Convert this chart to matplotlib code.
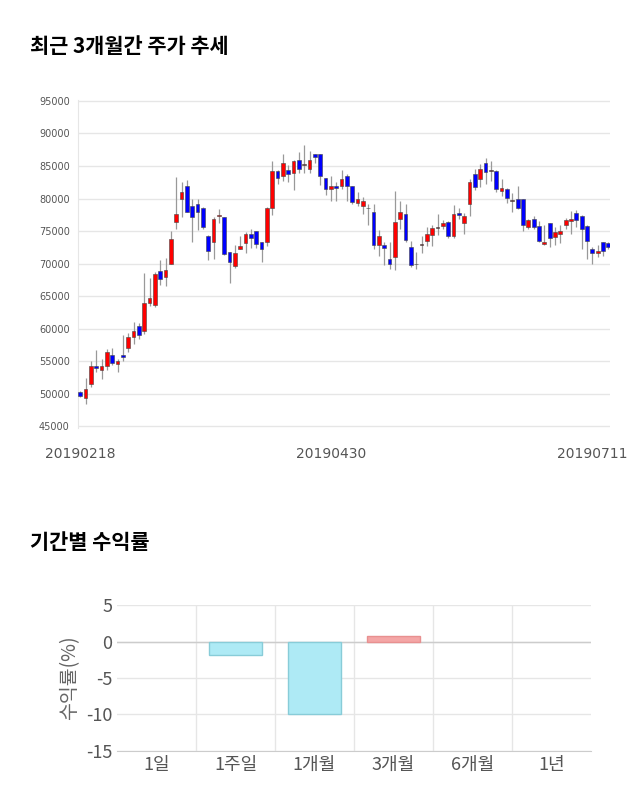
import matplotlib
matplotlib.use("Agg")
import matplotlib.pyplot as plt

plt.rcParams["font.family"] = "Noto Sans CJK KR"

# OHLC of the candlesticks
opens = [50300, 49400, 51500, 54300, 53600, 54300, 55900, 54600, 55900, 57000,
         58800, 60400, 59600, 64000, 63600, 68900, 68000, 70000, 76400, 80000,
         81900, 78800, 79100, 78600, 74200, 73300, 77300, 77100, 71800, 69600,
         72300, 73100, 74600, 75000, 73400, 73400, 78500, 84300, 83400, 84400,
         84000, 86000, 85200, 84500, 86900, 86800, 83100, 81500, 81900, 82000,
         83500, 81900, 79300, 78800, 78500, 78000, 72800, 72900, 70700, 71000,
         76800, 77600, 72500, 69900, 72900, 73500, 74400, 75500, 75800, 76400,
         74200, 77800, 76200, 79200, 83800, 83000, 85500, 84200, 84200, 81200,
         81400, 79600, 79900, 79900, 75600, 76800, 75800, 73000, 76300, 74100,
         74600, 75900, 76600, 77800, 77300, 75800, 72200, 71700, 73300, 73100]
closes = [49700, 50800, 54300, 54000, 54200, 56500, 54800, 55000, 55600, 58800,
          59600, 59100, 64000, 64800, 68400, 67700, 69100, 73800, 77600, 81000,
          78000, 77200, 77900, 75700, 72000, 76800, 77400, 71500, 70200, 71600,
          72700, 74600, 73900, 73000, 72200, 78500, 84300, 83100, 85400, 83700,
          85800, 84600, 85200, 86000, 86400, 83500, 81400, 82000, 81700, 83000,
          81900, 79400, 80000, 79600, 78500, 72800, 74200, 72400, 70000, 76400,
          78000, 73600, 69800, 69900, 72900, 74600, 75500, 75500, 76300, 74200,
          77600, 77400, 77300, 82500, 81800, 84500, 84100, 84200, 81400, 81700,
          80100, 79600, 78600, 76000, 76700, 75700, 73500, 73400, 74000, 74800,
          75000, 76700, 76800, 76700, 75300, 73500, 71700, 71900, 72000, 72500]
highs = [50500, 52400, 55000, 56800, 55400, 56900, 57100, 55300, 59000, 59300,
         61000, 60900, 68600, 67800, 68700, 70600, 70900, 75000, 83300, 82500,
         82900, 80000, 80000, 78700, 74400, 77200, 78400, 77200, 71800, 72900,
         74200, 74800, 75300, 75000, 73400, 78700, 85700, 84400, 86800, 85200,
         85900, 87100, 88300, 87300, 86900, 86900, 83200, 83500, 82500, 84400,
         83700, 81900, 81000, 80200, 79200, 79200, 75200, 73400, 73400, 81200,
         79600, 79200, 73500, 71800, 74300, 75700, 76000, 77600, 76700, 76500,
         79000, 78600, 77800, 83000, 84500, 85300, 86200, 85800, 84400, 83000,
         81700, 80900, 82000, 79900, 76900, 77300, 76500, 76000, 76300, 75600,
         76000, 77000, 78100, 78200, 77500, 76000, 72600, 72800, 73400, 73300]
lows = [49500, 48400, 51000, 53300, 52300, 53600, 54500, 53400, 55000, 56400,
        57600, 58500, 59200, 63500, 63400, 66700, 66600, 69900, 75400, 77100,
        77900, 73400, 75200, 75400, 70600, 70700, 76200, 71400, 67000, 69400,
        72200, 71700, 72400, 72400, 70200, 72700, 77500, 82300, 82700, 82500,
        81300, 84000, 84000, 84000, 85400, 82100, 80600, 79600, 79600, 81400,
        79600, 79100, 78800, 77700, 76000, 72300, 71200, 69800, 69200, 69000,
        75300, 73400, 69500, 69200, 71700, 72700, 72700, 74400, 75400, 73900,
        73900, 76800, 74600, 77300, 81300, 81800, 82200, 82700, 81000, 80400,
        79300, 78000, 78400, 75000, 75400, 75400, 73400, 72900, 72600, 72800,
        73100, 75400, 74600, 75700, 72200, 70700, 69900, 71000, 71100, 72300]

tick_idx = [0, 47, 96]
tick_lbl = ["20190218", "20190430", "20190711"]

periods = ["1일", "1주일", "1개월", "3개월", "6개월", "1년"]
returns = [0, -1.8, -9.9, 0.7, 0, 0]

fig = plt.figure(figsize=(6.4, 8.1), dpi=100)

fig.text(0.047, 0.935, "최근 3개월간 주가 추세", fontsize=15, fontweight="bold")
fig.text(0.047, 0.322, "기간별 수익률", fontsize=15, fontweight="bold")

ax = fig.add_axes([0.122, 0.472, 0.831, 0.405])
for i in range(len(opens)):
    o, c, h, l = opens[i], closes[i], highs[i], lows[i]
    if c > o:
        col = "#ff0000"
    elif c < o:
        col = "#0000ff"
    else:
        col = "#7a2020"
    ax.vlines(i, l, h, color="#999999", lw=0.9, zorder=2)
    bot = min(o, c)
    hgt = max(abs(c - o), 120)
    ax.bar(i, hgt, bottom=bot, width=0.7, color=col, edgecolor="#444444", lw=0.4, zorder=3)
ax.set_xlim(-0.4, 99.3)
ax.set_ylim(44800, 95200)
ax.set_yticks(range(45000, 95001, 5000))
ax.set_yticklabels([str(v) for v in range(45000, 95001, 5000)], fontsize=7, color="#555555",
                   fontfamily="DejaVu Sans")
ax.set_xticks(tick_idx)
ax.set_xticklabels(tick_lbl, fontsize=10, color="#555555", fontfamily="DejaVu Sans")
ax.tick_params(length=0, pad=6)
ax.tick_params(axis="x", pad=14)
ax.grid(axis="y", color="#e6e6e6", lw=1)
for s in ["top", "right", "bottom"]:
    ax.spines[s].set_visible(False)
ax.spines["left"].set_color("#e6e6e6")

bx = fig.add_axes([0.183, 0.073, 0.740, 0.180])
x = range(len(periods))
cols = ["#f4a6a6" if v > 0 else "#aeeaf5" for v in returns]
edges = ["#e89090" if v > 0 else "#88ccd8" for v in returns]
widths = [1 if v != 0 else 0 for v in returns]
bx.bar(x, returns, width=0.68, color=cols, edgecolor=edges, linewidth=widths, zorder=3)
bx.set_xlim(-0.5, 5.5)
bx.set_ylim(-15, 5)
bx.set_yticks([5, 0, -5, -10, -15])
bx.set_yticklabels(["5", "0", "-5", "-10", "-15"], fontsize=13, color="#555555")
bx.set_xticks(list(x))
bx.set_xticklabels(periods, fontsize=13, color="#555555")
bx.set_xticks([i + 0.5 for i in range(5)], minor=True)
bx.tick_params(which="both", length=0)
bx.grid(axis="y", color="#e6e6e6", lw=1)
bx.grid(axis="x", which="minor", color="#e6e6e6", lw=1)
bx.axhline(0, color="#cccccc", lw=1, zorder=2)
bx.set_ylabel("수익률(%)", fontsize=14, color="#666666", labelpad=4)
for s in ["top", "right", "left"]:
    bx.spines[s].set_visible(False)
bx.spines["bottom"].set_color("#cccccc")

fig.savefig("out.png", dpi=100)
